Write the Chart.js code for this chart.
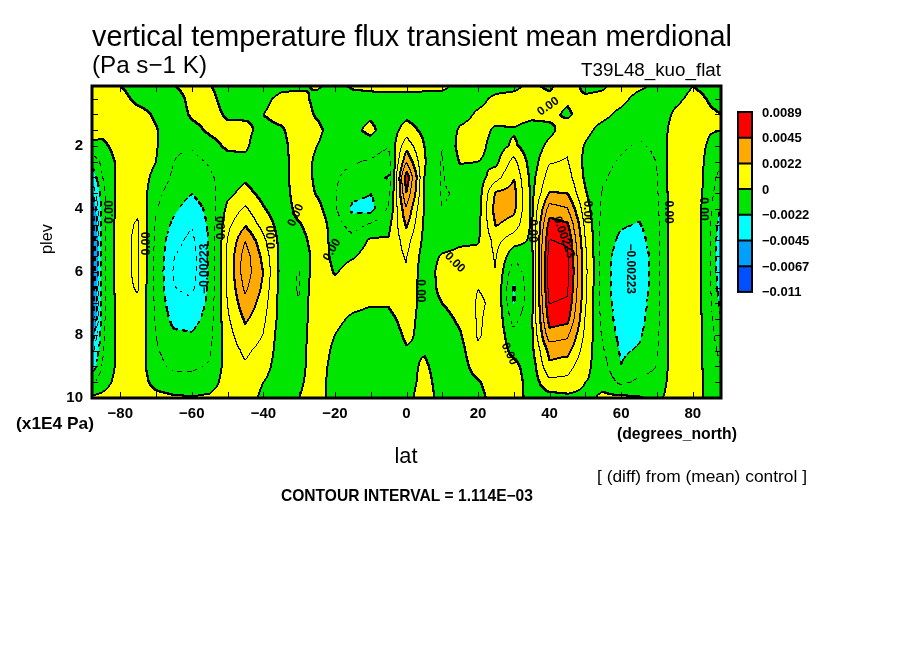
<!DOCTYPE html>
<html>
<head>
<meta charset="utf-8">
<script src="https://cdn.jsdelivr.net/npm/chart.js@4.4.1/dist/chart.umd.min.js"></script>
<style>
  html, body { margin: 0; padding: 0; background: #fff; }
  .wrap { width: 904px; height: 654px; }
</style>
</head>
<body>
<div class="wrap"><canvas id="chart"></canvas></div>
<script>
// grid nodes
const lats = [-88, -85, -80, -75, -70, -65, -60, -55, -50, -45, -40, -35, -30, -25, -20, -15, -10, -5,
  0, 5, 10, 15, 20, 25, 30, 35, 40, 45, 50, 55, 60, 65, 70, 75, 80, 85, 88];
const plevs = [0.1, 0.5, 1, 1.5, 2, 2.5, 3, 3.5, 4, 4.5, 5, 5.5, 6, 6.5, 7, 7.5, 8, 8.5, 9, 9.5, 10];

// field in 1E-3 Pa s-1 K, one row per latitude, plev 0.1 -> 10
const fluxByLat = [
  [1.0, 1.0, 0.8, 0.5, -0.3, -1.8, -3.0, -4.5, -6.5, -7.5, -8.0, -8.0, -8.0, -7.8, -7.5, -7.0, -5.5, -4.0, -3.0, -1.4, 0.3], // -88
  [1.0, 1.0, 0.8, 0.4, -0.3, -0.9, -1.2, -1.5, -1.6, -1.6, -1.6, -1.6, -1.6, -1.6, -1.6, -1.5, -1.4, -1.3, -1.1, -0.5, 0.3], // -85
  [0.0, 0.5, 0.8, 0.8, 0.6, 0.4, 0.5, 0.6, 0.7, 0.8, 0.8, 0.8, 0.8, 0.8, 0.7, 0.7, 0.6, 0.6, 0.5, 0.5, 0.6], // -80
  [-0.6, -0.4, 0.5, 0.8, 0.9, 0.8, 0.7, 0.8, 1.0, 1.2, 1.3, 1.3, 1.3, 1.2, 1.0, 0.9, 0.8, 0.7, 0.6, 0.6, 0.7], // -75
  [-1.0, -0.6, -0.2, 0.1, 0.1, 0.0, -0.4, -0.8, -1.0, -1.2, -1.3, -1.4, -1.4, -1.4, -1.3, -1.2, -1.1, -1.0, -0.8, -0.4, 0.4], // -70
  [-0.1, -0.8, -0.8, -0.9, -1.0, -1.1, -1.3, -1.6, -2.0, -2.5, -3.0, -3.3, -3.4, -3.3, -3.0, -2.6, -2.0, -1.6, -1.3, -0.8, 0.2], // -65
  [0.8, 0.5, 0.2, -0.4, -1.0, -1.4, -1.8, -2.2, -2.8, -3.3, -3.6, -3.8, -3.8, -3.6, -3.2, -2.7, -2.1, -1.7, -1.3, -0.8, 0.1], // -60
  [0.1, 0.4, 0.5, 0.2, -0.4, -1.0, -1.3, -1.6, -1.9, -2.0, -2.1, -2.1, -2.1, -2.0, -1.9, -1.7, -1.5, -1.3, -1.0, -0.5, 0.2], // -55
  [-0.8, -0.6, -0.2, 0.4, 0.2, -0.4, -0.6, -0.3, 0.3, 0.8, 1.1, 1.3, 1.3, 1.2, 1.1, 0.9, 0.7, 0.6, 0.5, 0.5, 0.5], // -50
  [-0.8, -0.6, -0.2, 0.3, 0.2, -0.3, -0.2, 0.4, 1.3, 2.1, 3.3, 3.9, 4.0, 3.6, 3.0, 2.4, 1.8, 1.3, 1.0, 0.8, 0.6], // -45
  [-0.6, -0.3, 0.0, -0.4, -0.8, -1.0, -0.8, -0.4, 0.1, 0.7, 1.4, 1.9, 2.2, 2.0, 1.7, 1.4, 1.1, 0.8, 0.5, 0.0, -0.3], // -40
  [-0.3, 0.3, 0.5, -0.2, -0.6, -0.8, -0.8, -0.8, -0.7, -0.5, -0.4, -0.4, -0.4, -0.5, -0.5, -0.5, -0.6, -0.6, -0.7, -0.7, -0.6], // -35
  [-0.3, 0.5, 0.8, 0.9, 1.0, 1.1, 1.1, 0.8, 0.4, -0.1, -0.6, -1.0, -1.2, -1.2, -1.1, -0.9, -0.7, -0.5, -0.4, -0.2, 0.0], // -30
  [0.2, -0.4, -0.2, 0.4, 0.0, -0.4, -0.4, -0.1, 0.4, 0.8, 0.7, 0.6, 0.8, 1.0, 1.1, 1.0, 0.9, 0.8, 0.7, 0.6, 0.6], // -25
  [-0.5, -0.7, -0.8, -0.8, -0.8, -0.9, -1.0, -1.0, -0.9, -0.6, -0.4, -0.3, -0.1, 0.4, 0.5, 0.3, 0.0, -0.3, -0.5, -0.6, -0.6], // -20
  [0.2, -0.5, -0.4, -0.3, -0.6, -1.0, -1.4, -1.9, -2.5, -1.6, -0.8, -0.1, 0.4, 0.5, 0.3, -0.2, -0.6, -0.8, -0.9, -0.9, -0.8], // -15
  [0.3, -0.4, -0.2, 0.3, -0.5, -1.2, -2.0, -2.2, -2.6, -1.0, 0.2, 0.5, 0.6, 0.4, 0.1, -0.4, -0.7, -0.9, -1.0, -1.0, -0.8], // -10
  [0.3, -0.3, -0.6, -0.7, -1.0, -1.8, -2.3, -1.6, -1.0, -0.3, 0.1, 0.5, 0.7, 0.5, 0.1, -0.3, -0.6, -0.8, -0.9, -0.9, -0.8], // -5
  [0.3, -0.3, -0.3, 0.5, 1.8, 3.2, 5.2, 4.4, 3.2, 2.4, 1.6, 1.2, 1.0, 0.9, 0.7, 0.4, 0.2, -0.1, -0.4, -0.5, -0.3], // 0
  [0.3, -0.4, -0.5, -0.3, 0.0, 0.1, 0.0, 0.0, -0.1, -0.2, -0.3, -0.5, -0.6, -0.6, -0.5, -0.4, -0.3, -0.1, 0.2, 0.4, 0.5], // 5
  [0.3, -0.5, -0.8, -1.0, -1.1, -1.2, -1.2, -1.2, -1.1, -0.9, -0.5, 0.1, 0.4, 0.3, 0.0, -0.4, -0.6, -0.7, -0.6, -0.5, -0.4], // 10
  [-0.4, -0.6, -0.5, 0.2, 0.4, 0.1, -0.6, -1.0, -1.0, -0.7, -0.2, 0.3, 0.6, 0.6, 0.5, 0.2, -0.1, -0.4, -0.5, -0.5, -0.4], // 15
  [-0.6, -0.4, 0.2, 0.5, 0.4, 0.0, -0.5, -0.6, -0.5, -0.3, -0.1, 0.3, 0.8, 1.1, 1.2, 1.2, 1.2, 1.0, 0.5, -0.1, -0.3], // 20
  [-0.5, 0.3, 0.5, -0.2, -0.5, -0.3, 0.6, 2.4, 2.8, 2.3, 1.5, 1.2, 1.1, 1.0, 1.0, 0.9, 0.8, 0.7, 0.6, 0.5, 0.4], // 25
  [-0.3, 0.4, 0.5, -0.1, 0.2, 1.5, 2.2, 2.6, 2.5, 1.8, 0.5, -0.8, -1.8, -2.4, -2.3, -1.5, -0.8, -0.3, 0.3, 0.6, 0.6], // 30
  [0.3, 0.6, 0.3, -0.5, -0.7, -0.6, -0.4, -0.3, -0.2, -0.2, -0.2, -0.3, -0.4, -0.4, -0.3, -0.2, -0.2, -0.3, -0.6, -0.6, -0.5], // 35
  [-0.3, 0.4, 0.3, -0.3, 0.3, 1.0, 1.6, 2.3, 3.8, 5.0, 5.6, 6.0, 6.2, 6.0, 5.6, 5.0, 4.0, 2.6, 2.0, 0.8, -0.5], // 40
  [1.0, 0.2, -0.2, 0.6, 0.9, 1.2, 1.6, 2.2, 3.4, 4.6, 5.4, 5.8, 6.0, 5.8, 5.4, 4.8, 3.6, 2.6, 1.6, 0.8, -0.3], // 45
  [-0.5, 0.3, 0.6, 0.3, -0.1, -0.3, -0.2, 0.1, 0.5, 0.9, 1.2, 1.4, 1.5, 1.4, 1.3, 1.1, 0.9, 0.6, 0.3, 0.0, -0.3], // 50
  [-0.2, 0.4, 0.3, -0.4, -0.7, -0.9, -1.0, -1.2, -1.4, -1.5, -1.6, -1.7, -1.7, -1.7, -1.6, -1.5, -1.3, -1.0, -0.7, -0.3, 0.2], // 55
  [0.8, 0.4, -0.3, -0.7, -1.0, -1.2, -1.4, -1.6, -1.8, -2.1, -2.5, -2.8, -3.0, -3.0, -2.9, -2.8, -2.6, -2.4, -2.2, -1.4, 0.3], // 60
  [0.3, -0.5, -0.8, -1.0, -1.2, -1.4, -1.6, -1.8, -2.0, -2.3, -2.7, -3.0, -3.1, -3.0, -2.8, -2.6, -2.4, -2.1, -1.6, -0.9, 0.1], // 65
  [-0.3, -0.6, -0.8, -0.9, -1.0, -1.1, -1.2, -1.3, -1.4, -1.5, -1.5, -1.6, -1.6, -1.6, -1.5, -1.5, -1.4, -1.3, -1.1, -0.8, -0.3], // 70
  [-0.6, -0.3, 0.2, 0.6, 0.8, 0.8, 0.9, 0.9, 0.9, 0.9, 0.9, 0.9, 0.9, 0.9, 0.9, 0.9, 0.8, 0.8, 0.7, 0.7, 0.6], // 75
  [0.0, 0.3, 0.6, 0.8, 0.8, 0.8, 0.8, 0.8, 0.8, 0.8, 0.8, 0.8, 0.8, 0.8, 0.8, 0.8, 0.8, 0.7, 0.7, 0.7, 0.6], // 80
  [-0.3, -0.1, 0.1, 0.1, -0.3, -0.5, -0.6, -0.7, -0.9, -1.0, -1.0, -1.0, -1.0, -1.0, -0.9, -0.8, -0.7, -0.6, -0.6, -0.5, -0.4], // 85
  [-0.3, -0.2, 0.0, 0.0, -0.5, -1.0, -1.5, -2.0, -2.4, -3.0, -3.3, -3.4, -3.3, -3.0, -2.6, -2.2, -1.8, -1.4, -1.1, -0.9, -0.7]  // 88
];

const latTicks = [-80, -60, -40, -20, 0, 20, 40, 60, 80];
const plevTicks = [2, 4, 6, 8, 10];
const contourInterval = 1.114;
const legendLabels = ['0.0089', '0.0045', '0.0022', '0', '-0.0022', '-0.0045', '-0.0067', '-0.011'];
const fillColors = ['#ff0000', '#ffaa00', '#ffff00', '#00e600', '#00ffff', '#00a0ff', '#0050ff'];

// contour labels: [lat, plev, text, angle in degrees]
const contourLabels = [
  [-82.9, 4.1, '0.00', -90], [-72.5, 5.1, '0.00', -90], [-51.6, 4.6, '0.00', -90],
  [-56.3, 5.9, '-0.00223', -90], [-37.6, 4.9, '0.00', -90], [-30.9, 4.2, '0.00', -65],
  [-20.8, 5.3, '0.00', -60], [4.0, 6.6, '0.00', 90], [13.5, 5.7, '0.00', 45],
  [28.7, 8.6, '0.00', 65], [35.1, 4.7, '0.00', 90], [39.6, 0.75, '0.00', -35],
  [44.0, 4.9, '0.00223', 70], [50.4, 4.1, '0.00', 90], [62.5, 5.9, '-0.00223', 90],
  [73.1, 4.1, '0.00', 90], [82.9, 4.0, '0.00', 90]
];

const nodes = [];
lats.forEach((lat, i) => {
  plevs.forEach((p, j) => nodes.push({ x: lat, y: p, v: fluxByLat[i][j] }));
});

function hexRgb(h) {
  return [parseInt(h.slice(1, 3), 16), parseInt(h.slice(3, 5), 16), parseInt(h.slice(5, 7), 16)];
}
const rgbColors = fillColors.map(hexRgb);

function locate(arr, v) {
  let i = 0;
  while (i < arr.length - 2 && v > arr[i + 1]) i++;
  let t = (v - arr[i]) / (arr[i + 1] - arr[i]);
  return [i, Math.max(0, Math.min(1, t))];
}

// shaded contours, drawn pixel by pixel through the chart scales
const contourFill = {
  id: 'contourFill',
  beforeDatasetsDraw(chart) {
    const { ctx, chartArea: a, scales } = chart;
    const data = chart.data.datasets[0].data;
    const np = plevs.length;
    const val = (i, j) => data[i * np + j].v;
    const x0 = Math.round(a.left), y0 = Math.round(a.top);
    const w = Math.round(a.right) - x0, h = Math.round(a.bottom) - y0;
    const cols = [], rows = [];
    for (let px = 0; px < w; px++) cols.push(locate(lats, scales.x.getValueForPixel(x0 + px + 0.5)));
    for (let py = 0; py < h; py++) rows.push(locate(plevs, scales.y.getValueForPixel(y0 + py + 0.5)));
    const field = new Float32Array(w * h);
    for (let py = 0; py < h; py++) {
      const [j, ty] = rows[py];
      for (let px = 0; px < w; px++) {
        const [i, tx] = cols[px];
        field[py * w + px] =
          val(i, j) * (1 - tx) * (1 - ty) + val(i + 1, j) * tx * (1 - ty) +
          val(i, j + 1) * (1 - tx) * ty + val(i + 1, j + 1) * tx * ty;
      }
    }
    const img = ctx.createImageData(w, h);
    const k = new Int16Array(w * h);
    for (let n = 0; n < w * h; n++) {
      const v = field[n];
      k[n] = Math.floor(v / contourInterval);
      const cls = Math.floor(v / (2 * contourInterval));
      const idx = Math.max(0, Math.min(6, 2 - cls));
      const c = rgbColors[idx];
      img.data[n * 4] = c[0]; img.data[n * 4 + 1] = c[1]; img.data[n * 4 + 2] = c[2]; img.data[n * 4 + 3] = 255;
    }
    const ink = (px, py) => {
      if (px < 0 || py < 0 || px >= w || py >= h) return;
      const n = (py * w + px) * 4;
      img.data[n] = 0; img.data[n + 1] = 0; img.data[n + 2] = 0;
    };
    for (let py = 0; py < h; py++) {
      for (let px = 0; px < w; px++) {
        const n = py * w + px;
        let L = null;
        if (px < w - 1 && k[n] !== k[n + 1]) L = Math.max(k[n], k[n + 1]);
        if (py < h - 1 && k[n] !== k[n + w]) L = Math.max(L === null ? -99 : L, Math.max(k[n], k[n + w]));
        if (L === null) continue;
        // negative contours dashed
        if (L < 0 && (((px / 5) | 0) + ((py / 5) | 0)) % 2 === 1) continue;
        const thick = L % 2 === 0 && L >= -6 && L <= 4;
        ink(px, py);
        if (thick) { ink(px + 1, py); ink(px, py + 1); }
      }
    }
    ctx.putImageData(img, x0, y0);

    // contour labels
    ctx.save();
    ctx.fillStyle = '#000';
    ctx.font = 'bold 12px "Liberation Sans", Arial, sans-serif';
    ctx.textAlign = 'center';
    ctx.textBaseline = 'middle';
    contourLabels.forEach(([lat, p, txt, ang]) => {
      ctx.save();
      ctx.translate(scales.x.getPixelForValue(lat), scales.y.getPixelForValue(p));
      ctx.rotate(ang * Math.PI / 180);
      ctx.fillText(txt.replace('-', '\u2212'), 0, 0);
      ctx.restore();
    });
    ctx.restore();
  },
  afterDraw(chart) {
    const { ctx, chartArea: a, scales } = chart;
    ctx.save();
    ctx.strokeStyle = '#000';
    ctx.lineWidth = 1;
    // inward ticks
    ctx.beginPath();
    for (let lat = -80; lat <= 80; lat += 10) {
      const px = Math.round(scales.x.getPixelForValue(lat)) + 0.5;
      ctx.moveTo(px, a.bottom); ctx.lineTo(px, a.bottom - 6);
      ctx.moveTo(px, a.top); ctx.lineTo(px, a.top + 6);
    }
    for (let p = 0.5; p < 10; p += 0.5) {
      const py = Math.round(scales.y.getPixelForValue(p)) + 0.5;
      ctx.moveTo(a.left, py); ctx.lineTo(a.left + 6, py);
      ctx.moveTo(a.right, py); ctx.lineTo(a.right - 6, py);
    }
    ctx.stroke();
    ctx.lineWidth = 3;
    ctx.strokeRect(a.left, a.top, a.right - a.left, a.bottom - a.top);

    // texts
    const fit = (txt, x, y, width, weight, size, align) => {
      ctx.font = weight + ' ' + size + 'px "Liberation Sans", Arial, sans-serif';
      const m = ctx.measureText(txt).width;
      const s = size * width / m;
      ctx.font = weight + ' ' + s.toFixed(2) + 'px "Liberation Sans", Arial, sans-serif';
      ctx.textAlign = align || 'left';
      ctx.fillText(txt, x, y);
    };
    ctx.fillStyle = '#000';
    ctx.textBaseline = 'alphabetic';
    fit('vertical temperature flux transient mean merdional', 92, 46, 640, 'normal', 24);
    fit('(Pa s\u22121 K)', 92, 73, 115, 'normal', 17);
    fit('T39L48_kuo_flat', 721, 76, 140, 'normal', 15, 'right');
    fit('(x1E4 Pa)', 16, 429, 78, 'bold', 14);
    fit('lat', 406, 463, 23, 'normal', 20, 'center');
    fit('(degrees_north)', 617, 439, 120, 'bold', 14);
    fit('[ (diff) from (mean) control ]', 597, 482, 210, 'normal', 13);
    fit('CONTOUR INTERVAL = 1.114E\u221203', 281, 501, 252, 'bold', 14);
    ctx.save();
    ctx.translate(52, 239);
    ctx.rotate(-Math.PI / 2);
    fit('plev', 0, 0, 30, 'normal', 19, 'center');
    ctx.restore();

    // colour bar
    const top = 112, step = 25.7, bx = 738, bw = 14;
    fillColors.forEach((c, i) => {
      ctx.fillStyle = c;
      ctx.fillRect(bx, top + i * step, bw, step);
    });
    ctx.lineWidth = 2;
    ctx.strokeStyle = '#000';
    ctx.strokeRect(bx, top, bw, step * fillColors.length);
    ctx.beginPath();
    for (let i = 1; i < fillColors.length; i++) {
      ctx.moveTo(bx, top + i * step); ctx.lineTo(bx + bw, top + i * step);
    }
    ctx.stroke();
    ctx.fillStyle = '#000';
    ctx.textBaseline = 'middle';
    ctx.textAlign = 'left';
    ctx.font = 'bold 13px "Liberation Sans", Arial, sans-serif';
    legendLabels.forEach((t, i) => {
      ctx.fillText(t.replace('-', '\u2212'), 762, top + i * step + 1);
    });
    ctx.restore();
  }
};

const minus = (s) => String(s).replace('-', '\u2212');

new Chart(document.getElementById('chart'), {
  type: 'scatter',
  data: {
    datasets: [{
      label: 'flux',
      data: nodes,
      pointRadius: 0,
      showLine: false
    }]
  },
  options: {
    responsive: true,
    maintainAspectRatio: false,
    animation: false,
    devicePixelRatio: 1,
    layout: { padding: { left: 0, right: 183, top: 86, bottom: 216 } },
    plugins: { legend: { display: false }, tooltip: { enabled: false } },
    scales: {
      x: {
        type: 'linear',
        min: -87.9,
        max: 87.9,
        grid: { display: false, drawTicks: false },
        border: { display: false },
        afterBuildTicks: (s) => { s.ticks = latTicks.map((v) => ({ value: v })); },
        afterFit: (s) => { s.height = 40; },
        ticks: {
          color: '#000',
          padding: 7,
          maxRotation: 0,
          font: { family: '"Liberation Sans", Arial, sans-serif', size: 15, weight: 'bold' },
          callback: (v) => minus(v)
        }
      },
      y: {
        type: 'linear',
        reverse: true,
        min: 0.1,
        max: 10,
        grid: { display: false, drawTicks: false },
        border: { display: false },
        afterBuildTicks: (s) => { s.ticks = plevTicks.map((v) => ({ value: v })); },
        afterFit: (s) => { s.width = 92; },
        ticks: {
          color: '#000',
          padding: 9,
          font: { family: '"Liberation Sans", Arial, sans-serif', size: 15, weight: 'bold' }
        }
      }
    }
  },
  plugins: [contourFill]
});
</script>
</body>
</html>
